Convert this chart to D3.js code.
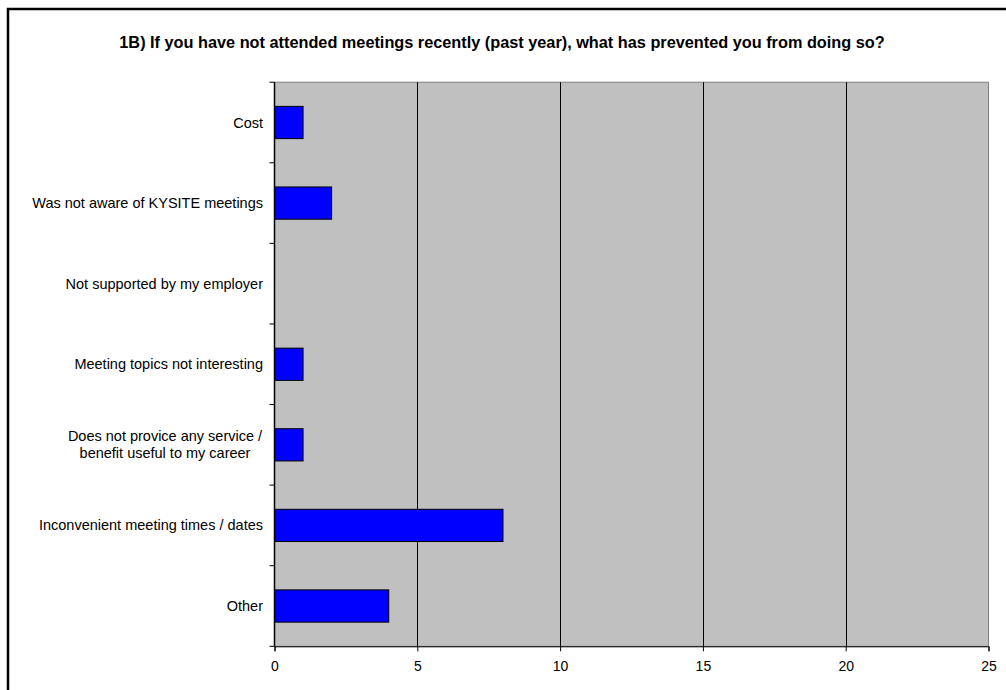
<!DOCTYPE html>
<html><head><meta charset="utf-8">
<script src="https://cdn.jsdelivr.net/npm/d3@7"></script>
<style>body{margin:0;background:#fff;}svg{display:block;font-family:"Liberation Sans",Arial,sans-serif;}</style>
</head><body>
<script>
const title = "1B) If you have not attended meetings recently (past year), what has prevented you from doing so?";
const categories = [
  "Cost",
  "Was not aware of KYSITE meetings",
  "Not supported by my employer",
  "Meeting topics not interesting",
  "Does not provice any service / benefit useful to my career",
  "Inconvenient meeting times / dates",
  "Other"
];
const categoryLines = [
  ["Cost"],
  ["Was not aware of KYSITE meetings"],
  ["Not supported by my employer"],
  ["Meeting topics not interesting"],
  ["Does not provice any service /", "benefit useful to my career"],
  ["Inconvenient meeting times / dates"],
  ["Other"]
];
const values = [1, 2, 0, 1, 1, 8, 4];
const xTicks = [0, 5, 10, 15, 20, 25];

(function () {
const W = 1006, H = 690;
const svg = d3.select("body").append("svg").attr("width", W).attr("height", H);

// outer frame
svg.append("rect").attr("x", 8).attr("y", 9).attr("width", 1100).attr("height", 800)
  .attr("fill", "none").attr("stroke", "#000").attr("stroke-width", 2.5);

const pL = 274.5, pR = 988.5, pT = 82.2, pB = 646.3;
const x = d3.scaleLinear().domain([0, 25]).range([pL, pR]);
const y = d3.scaleBand().domain(categories).range([pT, pB]).paddingInner(0.6).paddingOuter(0.3);
const band = d3.scaleBand().domain(categories).range([pT, pB]);

svg.append("rect").attr("x", pL).attr("y", pT).attr("width", pR - pL).attr("height", pB - pT)
  .attr("fill", "#C0C0C0").attr("stroke", "#808080").attr("stroke-width", 1);

// gridlines
svg.append("g").selectAll("line").data(xTicks.filter(t => t > 0 && t < 25)).join("line")
  .attr("x1", d => Math.round(x(d)) + 0.5).attr("x2", d => Math.round(x(d)) + 0.5)
  .attr("y1", pT).attr("y2", pB).attr("stroke", "#000").attr("stroke-width", 1);

// bars
svg.append("g").selectAll("rect").data(categories).join("rect")
  .attr("x", x(0)).attr("y", d => y(d)).attr("height", y.bandwidth())
  .attr("width", (d, i) => x(values[i]) - x(0))
  .attr("fill", "#0000FF").attr("stroke", "#000").attr("stroke-width", 1)
  .attr("display", (d, i) => values[i] === 0 ? "none" : null);

// x axis
const xAxis = d3.axisBottom(x).tickValues(xTicks).tickSize(5).tickPadding(10);
const gx = svg.append("g").attr("transform", `translate(0,${pB})`).call(xAxis);
gx.select(".domain").attr("stroke", "#000");
gx.selectAll(".tick line").attr("stroke", "#000");
gx.selectAll("text").attr("font-size", 14).attr("fill", "#000").attr("font-family", "Liberation Sans, Arial, sans-serif");

// y axis line
svg.append("line").attr("x1", pL).attr("x2", pL).attr("y1", pT).attr("y2", pB)
  .attr("stroke", "#000").attr("stroke-width", 1.5);
// y ticks at category boundaries
const boundaries = categories.map(c => band(c)).concat([pB]);
svg.append("g").selectAll("line").data(boundaries).join("line")
  .attr("x1", pL - 5).attr("x2", pL).attr("y1", d => d).attr("y2", d => d)
  .attr("stroke", "#000").attr("stroke-width", 1);

// category labels
const lg = svg.append("g");
categories.forEach((c, i) => {
  const lines = categoryLines[i];
  const cy = band(c) + band.bandwidth() / 2;
  const lh = 17;
  const t = lg.append("text").attr("font-size", 14.5).attr("fill", "#000");
  if (lines.length === 1) {
    t.attr("x", 263).attr("y", cy).attr("dy", "0.35em").attr("text-anchor", "end").text(lines[0]);
  } else {
    t.attr("text-anchor", "middle");
    const cx = 165;
    lines.forEach((l, k) => {
      t.append("tspan").attr("x", cx).attr("y", cy + (k - (lines.length - 1) / 2) * lh).attr("dy", "0.35em").text(l);
    });
  }
});

// title
svg.append("text").attr("x", 502).attr("y", 42).attr("dy", "0.35em").attr("text-anchor", "middle")
  .attr("font-size", 16.3).attr("font-weight", "bold").text(title);
})();
</script>
</body></html>
